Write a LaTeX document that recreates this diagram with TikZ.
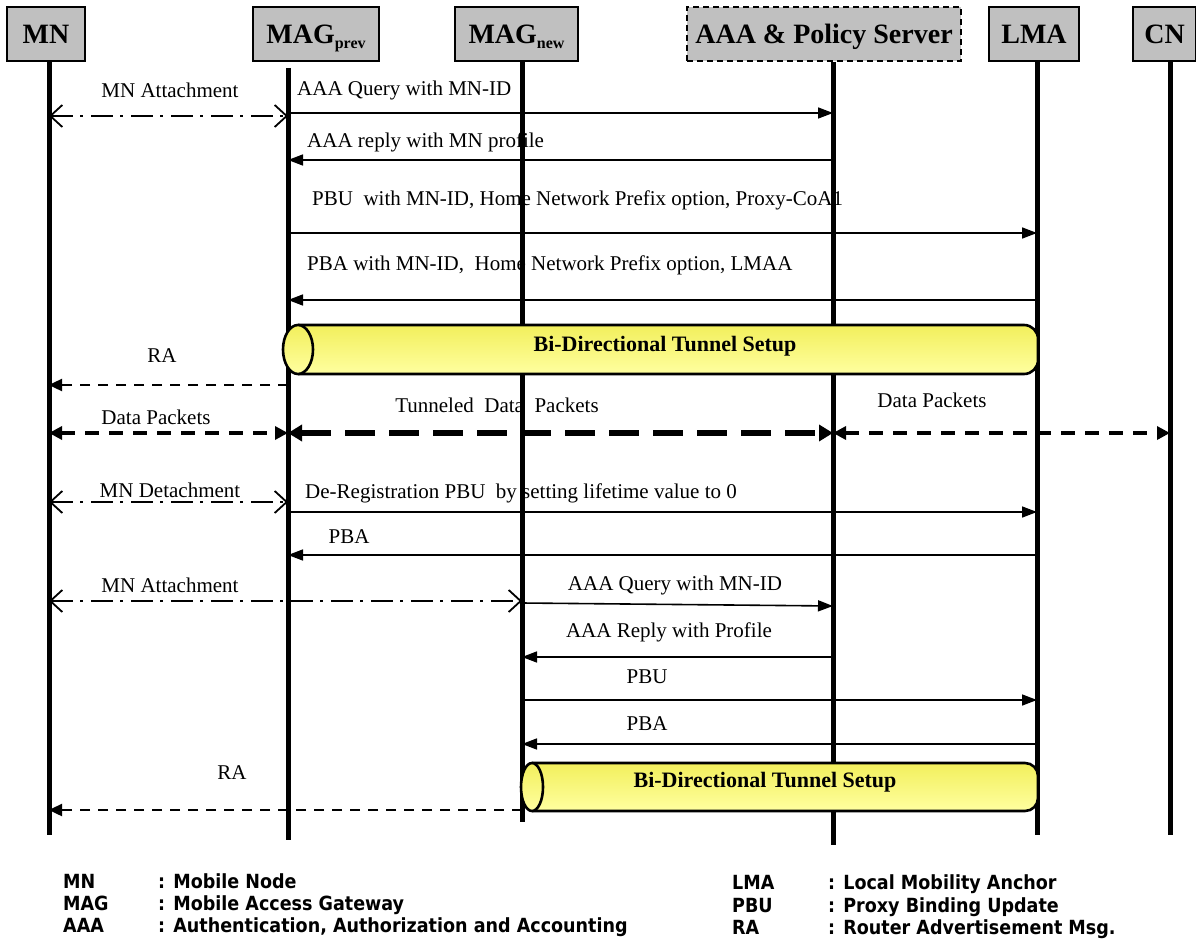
\documentclass[tikz,border=0pt]{standalone}
\usepackage{fontspec}
\setmainfont{Liberation Serif}
\newfontfamily\legfont{DejaVu Sans Condensed}
\usetikzlibrary{arrows.meta,positioning,calc}
\definecolor{HeadGray}{HTML}{C0C0C0}
\definecolor{TunDark}{HTML}{F2EF5C}
\definecolor{TunLight}{HTML}{FFFFA0}
\newcommand{\subtag}[1]{\raisebox{-5pt}{\fontsize{16}{18}\selectfont #1}}

\begin{document}
\begin{tikzpicture}[x=1pt,y=-1pt,
  head/.style={rectangle,draw=black,line width=1.6pt,fill=HeadGray,
               minimum height=54pt,inner sep=0pt,text height=20pt,text depth=0pt,
               font=\fontsize{28}{30}\selectfont\bfseries},
  life/.style={line width=5pt},
  req/.style={-{Triangle[length=15pt,width=11pt]},line width=1.6pt},
  attach/.style={{Straight Barb[length=12pt,width=22pt,line width=1.8pt]}-{Straight Barb[length=12pt,width=22pt,line width=1.8pt]},
                 line width=1.7pt,dash pattern=on 22pt off 7pt on 3pt off 8pt},
  ra/.style={-{Triangle[length=13pt,width=12pt]},line width=2.4pt,dash pattern=on 10pt off 8pt},
  data/.style={{Triangle[length=13pt,width=13pt]}-{Triangle[length=13pt,width=13pt]},
               line width=3.2pt,dash pattern=on 14pt off 10pt},
  tundata/.style={{Triangle[length=14pt,width=16pt]}-{Triangle[length=14pt,width=16pt]},
                  line width=6.5pt,dash pattern=on 30pt off 14pt},
  lbl/.style={inner sep=0pt,font=\fontsize{21}{24}\selectfont},
  tunnel/.style={draw=black,line width=2.6pt,top color=TunDark,bottom color=TunLight},
  tunlbl/.style={inner sep=0pt,font=\fontsize{22}{25}\selectfont\bfseries},
  leg/.style={anchor=base west,inner sep=0pt,font=\legfont\bfseries\fontsize{19.5}{22}\selectfont}]
\useasboundingbox (0,0) rectangle (1196,941);

% entities
\node[head,minimum width=78pt]  (mn)   at (46,34)    {MN};
\node[head,minimum width=126pt] (magp) at (316,34)   {MAG\subtag{prev}};
\node[head,minimum width=123pt] (magn) at (516.5,34) {MAG\subtag{new}};
\node[head,minimum width=274pt,dash pattern=on 6pt off 4pt] (aaa) at (824,34) {AAA \& Policy Server};
\node[head,minimum width=90pt]  (lma)  at (1034,34)  {LMA};
\node[head,minimum width=63pt]  (cn)   at (1164.5,34) {CN};

% lifeline ends
\coordinate (mnE)   at (49,835);
\coordinate (magpE) at (288,840);
\coordinate (magnE) at (522,822);
\coordinate (aaaE)  at (833,845);
\coordinate (lmaE)  at (1037,835);
\coordinate (cnE)   at (1170,835);
\draw[life] (mn.south -| mnE) -- (mnE);
\draw[life] ($(magp.south -| magpE)+(0,6)$) -- (magpE);
\draw[life] (magn.south -| magnE) -- (magnE);
\draw[life] (aaa.south -| aaaE) -- (aaaE);
\draw[life] (lma.south -| lmaE) -- (lmaE);
\draw[life] (cn.south -| cnE) -- (cnE);

% first attachment
\draw[attach] (mnE |- 0,116) -- (magpE |- 0,116);
\node[lbl] (l1) at (170,90) {MN Attachment};
\draw[req] (magpE |- 0,113) -- (aaaE |- 0,113);
\node[lbl,anchor=west] (l2) at (297,90) {AAA Query with MN-ID};
\draw[req] (aaaE |- 0,160) -- (magpE |- 0,160);
\node[lbl,anchor=west] (l3) at (307,142) {AAA reply with MN profile};
\draw[req] (magpE |- 0,233) -- (lmaE |- 0,233);
\node[lbl,anchor=west] (l4) at (312,200) {PBU\ \ with MN-ID, Home Network Prefix option, Proxy-CoA1};
\draw[req] (lmaE |- 0,300) -- (magpE |- 0,300);
\node[lbl,anchor=west] (l5) at (307,265) {PBA with MN-ID,\ \ Home Network Prefix option, LMAA};

% tunnel one
\draw[tunnel,rounded corners=14pt] (298,325) -- (1038,325) -- (1038,374) -- (298,374);
\draw[tunnel] (298,349.5) ellipse [x radius=15pt,y radius=24.5pt];
\node[tunlbl] (t1) at (665,346) {Bi-Directional Tunnel Setup};

\draw[ra] (magpE |- 0,385) -- (mnE |- 0,385);
\node[lbl] (l6) at (162,356) {RA};

% data path
\draw[data] (mnE |- 0,433) -- (magpE |- 0,433);
\node[lbl] (l7) at (156,417) {Data Packets};
\draw[tundata] (magpE |- 0,433) -- (aaaE |- 0,433);
\node[lbl] (l8) at (497,405) {Tunneled\ \ Data\ \ Packets};
\draw[data] (aaaE |- 0,433) -- (cnE |- 0,433);
\node[lbl] (l9) at (932,400) {Data Packets};

% detachment
\draw[attach] (mnE |- 0,502) -- (magpE |- 0,502);
\node[lbl] (l10) at (170,490) {MN Detachment};
\draw[req] (magpE |- 0,512) -- (lmaE |- 0,512);
\node[lbl,anchor=west] (l11) at (305,493) {De-Registration PBU\ \ by setting lifetime value to 0};
\draw[req] (lmaE |- 0,555) -- (magpE |- 0,555);
\node[lbl] (l12) at (349,537) {PBA};

% new attachment
\draw[attach] (mnE |- 0,601) -- (magnE |- 0,601);
\node[lbl] (l13) at (170,585) {MN Attachment};
\draw[req] (magnE |- 0,603) -- (aaaE |- 0,606);
\node[lbl] (l14) at (675,585) {AAA Query with MN-ID};
\draw[req] (aaaE |- 0,657) -- (magnE |- 0,657);
\node[lbl] (l15) at (669,632) {AAA Reply with Profile};
\draw[req] (magnE |- 0,700) -- (lmaE |- 0,700);
\node[lbl] (l16) at (647,677) {PBU};
\draw[req] (lmaE |- 0,744) -- (magnE |- 0,744);
\node[lbl] (l17) at (647,724) {PBA};

% tunnel two
\draw[tunnel,rounded corners=13pt] (532,763) -- (1038,763) -- (1038,811) -- (532,811);
\draw[tunnel] (532,787) ellipse [x radius=11pt,y radius=24pt];
\node[tunlbl] (t2) at (765,782) {Bi-Directional Tunnel Setup};
\draw[ra] (magnE |- 0,810) -- (mnE |- 0,810);
\node[lbl] (l18) at (232,773) {RA};

% abbreviations
\node[leg] (k1) at (63,888) {MN};
\node[leg] (k1d) at (158,888) {: Mobile Node};
\node[leg] (k2) at (63,910) {MAG};
\node[leg] (k2d) at (158,910) {: Mobile Access Gateway};
\node[leg] (k3) at (63,932) {AAA};
\node[leg] (k3d) at (158,932) {: Authentication, Authorization and Accounting};
\node[leg] (k4) at (732,889) {LMA};
\node[leg] (k4d) at (828,889) {: Local Mobility Anchor};
\node[leg] (k5) at (732,912) {PBU};
\node[leg] (k5d) at (828,912) {: Proxy Binding Update};
\node[leg] (k6) at (732,934) {RA};
\node[leg] (k6d) at (828,934) {: Router Advertisement Msg.};
\end{tikzpicture}
\end{document}
